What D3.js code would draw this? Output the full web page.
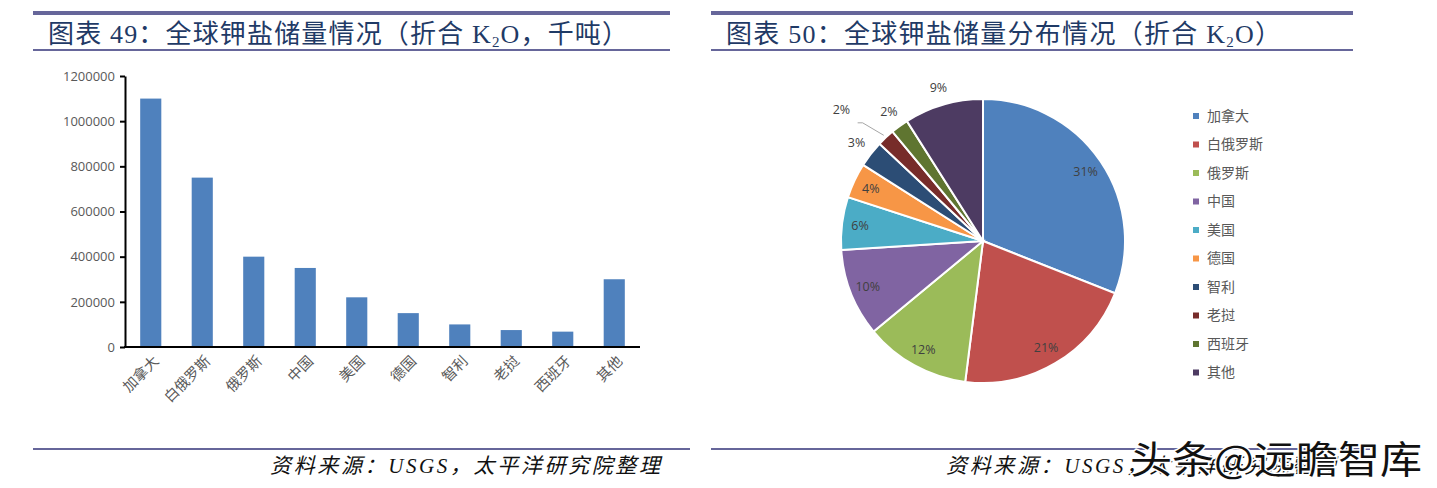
<!DOCTYPE html>
<html>
<head>
<meta charset="utf-8">
<script src="https://cdn.jsdelivr.net/npm/d3@7"></script>
<style>
  body { margin: 0; background: #fff; }
  svg { display: block; }
</style>
</head>
<body>
<svg id="chart" width="1437" height="488"></svg>
<script>
// reserves, thousand tonnes K2O
const countries = ["加拿大", "白俄罗斯", "俄罗斯", "中国", "美国", "德国", "智利", "老挝", "西班牙", "其他"];
const reserves = [1100000, 750000, 400000, 350000, 220000, 150000, 100000, 75000, 68000, 300000];
// shares printed on the pie, %
const pieShares = [31, 21, 12, 10, 6, 4, 3, 2, 2, 9];
const yTicks = [0, 200000, 400000, 600000, 800000, 1000000, 1200000];
const colors = ["#4F81BD", "#C0504D", "#9BBB59", "#8064A2", "#4BACC6", "#F79646", "#2C4D75", "#772C2A", "#5F7530", "#4D3B62"];

const svg = d3.select("#chart");
const ruleColor = "#66669a";
const titleColor = "#1f3a66";
const serif = "'Liberation Serif', 'Noto Sans CJK SC', serif";
const cjk = "'Noto Sans CJK SC', sans-serif";

// header / footer rules
function panelFrame(x0, x1, x2, title, num, tail, tWidth) {
    svg.append("rect").attr("x", x0).attr("y", 11).attr("width", x1 - x0).attr("height", 4).attr("fill", ruleColor);
    svg.append("rect").attr("x", x0).attr("y", 49).attr("width", x1 - x0).attr("height", 2).attr("fill", ruleColor);
    svg.append("rect").attr("x", x0).attr("y", 448).attr("width", x2 - x0).attr("height", 2).attr("fill", ruleColor);

    const t = svg.append("text")
        .attr("x", x0 + 15).attr("y", 43)
        .attr("font-family", serif).attr("font-size", 26)
        .attr("fill", titleColor)
        .attr("textLength", tWidth).attr("lengthAdjust", "spacing");
    t.append("tspan").text("图表 " + num + "：" + title + "（折合 K");
    t.append("tspan").attr("font-size", 15).attr("dy", 4).text("2");
    t.append("tspan").attr("dy", -4).text("O" + tail + "）");
}

panelFrame(33, 670, 690, "全球钾盐储量情况", "49", "，千吨", 580);
panelFrame(711, 1353, 1370, "全球钾盐储量分布情况", "50", "", 555);

function source(x0) {
    svg.append("text").attr("x", x0).attr("y", 473)
        .attr("font-family", serif).attr("font-style", "italic").attr("font-size", 21)
        .attr("fill", "#111").attr("textLength", 390).attr("lengthAdjust", "spacing")
        .text("资料来源：USGS，太平洋研究院整理");
}
source(270);
source(946);

// ---- bar chart ----
const x = d3.scaleBand().domain(countries).range([125, 640]).paddingInner(0.59).paddingOuter(0.295);
const y = d3.scaleLinear().domain([0, 1200000]).range([347, 76]);

svg.selectAll("rect.bar")
    .data(reserves)
    .enter()
    .append("rect")
    .attr("class", "bar")
    .attr("x", (d, i) => x(countries[i]))
    .attr("y", d => y(d))
    .attr("width", x.bandwidth())
    .attr("height", d => y(0) - y(d))
    .attr("fill", "#4F81BD");

const yAxis = svg.append("g")
    .attr("transform", "translate(125,0)")
    .call(d3.axisLeft(y).tickValues(yTicks).tickSize(5).tickSizeOuter(0).tickFormat(d3.format("d")));
yAxis.select(".domain").attr("stroke", "#000").attr("stroke-width", 2);
yAxis.selectAll(".tick line").attr("stroke", "#000").attr("stroke-width", 2);
yAxis.selectAll(".tick text")
    .attr("font-family", "'Open Sans', 'Liberation Sans', sans-serif")
    .attr("font-size", 13).attr("fill", "#595959").attr("x", -10);

const xAxis = svg.append("g")
    .attr("transform", "translate(0,347)")
    .call(d3.axisBottom(x).tickSize(0).tickSizeOuter(0));
xAxis.select(".domain").attr("stroke", "#000").attr("stroke-width", 2).attr("d", "M124,0H640");
xAxis.selectAll(".tick text")
    .attr("font-family", cjk).attr("font-size", 14.5).attr("fill", "#595959")
    .attr("text-anchor", "end")
    .attr("dy", 0)
    .attr("transform", "translate(7,13) rotate(-45)");

// ---- pie chart ----
const cx = 983, cy = 241, r = 142;
const pie = d3.pie().sort(null).value(d => d);
const arcs = pie(pieShares);
const arc = d3.arc().innerRadius(0).outerRadius(r);
const g = svg.append("g").attr("transform", `translate(${cx},${cy})`);

g.selectAll("path")
    .data(arcs)
    .enter()
    .append("path")
    .attr("d", arc)
    .attr("fill", (d, i) => colors[i])
    .attr("stroke", "#fff")
    .attr("stroke-width", 2);

const inArc = d3.arc().innerRadius(124).outerRadius(124);
const outArc = d3.arc().innerRadius(160).outerRadius(160);

g.selectAll("text.lbl")
    .data(arcs)
    .enter()
    .append("text")
    .attr("class", "lbl")
    .attr("transform", (d, i) => {
        if (i === 7) {
            const a = (d.startAngle + d.endAngle) / 2 - 0.04;
            return `translate(${Math.sin(a) * 193 - 4},${-Math.cos(a) * 193 + 4})`;
        }
        const p = i >= 6 ? outArc.centroid(d) : inArc.centroid(d);
        return `translate(${p[0]},${p[1]})`;
    })
    .attr("text-anchor", "middle")
    .attr("dy", "0.35em")
    .attr("font-family", "'Open Sans', 'Liberation Sans', sans-serif")
    .attr("font-size", 12.5)
    .attr("fill", "#404040")
    .text(d => d.data + "%");

// leader line for the Laos label
{
    const d = arcs[7];
    const a = (d.startAngle + d.endAngle) / 2;
    const p1 = [Math.sin(a) * (r + 3), -Math.cos(a) * (r + 3)];
    const la = a - 0.04;
    const p2 = [Math.sin(la) * 180 + 8, -Math.cos(la) * 180 + 8];
    g.append("path")
        .attr("d", `M${p1[0]},${p1[1]}L${p2[0]},${p2[1]}h-5`)
        .attr("fill", "none").attr("stroke", "#a6a6a6").attr("stroke-width", 1);
}

// legend
const legend = svg.append("g").attr("transform", "translate(1193,116)");
const rows = legend.selectAll("g")
    .data(countries)
    .enter()
    .append("g")
    .attr("transform", (d, i) => `translate(0,${i * 28.5})`);
rows.append("rect").attr("x", 0).attr("y", -3).attr("width", 6).attr("height", 6)
    .attr("fill", (d, i) => colors[i]);
rows.append("text").attr("x", 14).attr("dy", "0.35em")
    .attr("font-family", cjk).attr("font-size", 14).attr("fill", "#595959")
    .text(d => d);

// watermark (overlaps the right-hand source line, as in the original)
svg.append("text").attr("x", 1130).attr("y", 473)
    .attr("font-family", cjk).attr("font-size", 38).attr("fill", "#111")
    .attr("stroke", "#fff").attr("stroke-width", 3).attr("paint-order", "stroke")
    .attr("textLength", 292).attr("lengthAdjust", "spacingAndGlyphs")
    .text("头条@远瞻智库");
</script>
</body>
</html>
